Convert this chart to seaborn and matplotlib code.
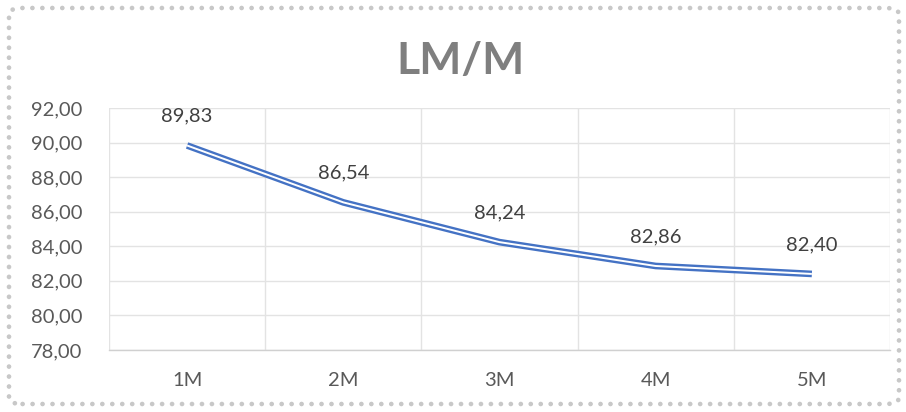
import pandas as pd
import seaborn as sns
import matplotlib.pyplot as plt
from matplotlib.patches import FancyBboxPatch

periods = ["1M", "2M", "3M", "4M", "5M"]
lm_m = [89.83, 86.54, 84.24, 82.86, 82.40]
y_ticks = [78, 80, 82, 84, 86, 88, 90, 92]

df = pd.DataFrame({"period": periods, "LM/M": lm_m})


def comma(v):
    return f"{v:.2f}".replace(".", ",")


sns.set_theme(style="white")
plt.rcParams["font.family"] = ["Lato", "DejaVu Sans"]

fig = plt.figure(figsize=(9.06, 4.12), dpi=100)
ax = fig.add_axes([0.1203, 0.1505, 0.862, 0.5874])

# double line: thick blue with a thin white stripe on top
sns.lineplot(data=df, x="period", y="LM/M", ax=ax, color="#4472c4",
             linewidth=4.8, solid_capstyle="butt", solid_joinstyle="round")
sns.lineplot(data=df, x="period", y="LM/M", ax=ax, color="white",
             linewidth=1.4, solid_capstyle="butt", solid_joinstyle="round")

for i, v in enumerate(lm_m):
    ax.annotate(comma(v), (i, v), xytext=(0, 15), textcoords="offset points",
                ha="center", va="bottom", fontsize=14.5, color="#404040")

ax.set_xlim(-0.5, len(periods) - 0.5)
ax.set_ylim(y_ticks[0], y_ticks[-1])
ax.set_yticks(y_ticks)
ax.set_yticklabels([comma(t) for t in y_ticks])
ax.set_xticks(range(len(periods)))
ax.set_xticklabels(periods)
ax.set_xticks([i - 0.5 for i in range(len(periods) + 1)], minor=True)
ax.set_xlabel("")
ax.set_ylabel("")

ax.grid(axis="y", which="major", color="#e3e3e3", linewidth=1)
ax.grid(axis="x", which="minor", color="#e3e3e3", linewidth=1)
ax.grid(axis="x", which="major", visible=False)
ax.tick_params(axis="both", which="both", length=0, labelsize=14.5,
               labelcolor="#595959")
ax.tick_params(axis="x", pad=16)
ax.tick_params(axis="y", pad=19)
for side in ["top", "left", "right"]:
    ax.spines[side].set_visible(False)
ax.spines["bottom"].set_color("#d0d0d0")
ax.spines["bottom"].set_linewidth(1)

fig.text(0.508, 0.853, "LM/M", ha="center", va="center", fontsize=32,
         fontweight="bold", color="#7f7f7f")

border = FancyBboxPatch((9 / 906, 8 / 412), 890 / 906, 396 / 412,
                        boxstyle="round,pad=0,rounding_size=0.015",
                        transform=fig.transFigure, fill=False,
                        edgecolor="#c8c8c8", linewidth=3.4,
                        linestyle=(0, (0.01, 2.1)))
border.set_capstyle("round")
fig.patches.append(border)

fig.savefig("out.png", dpi=100)
